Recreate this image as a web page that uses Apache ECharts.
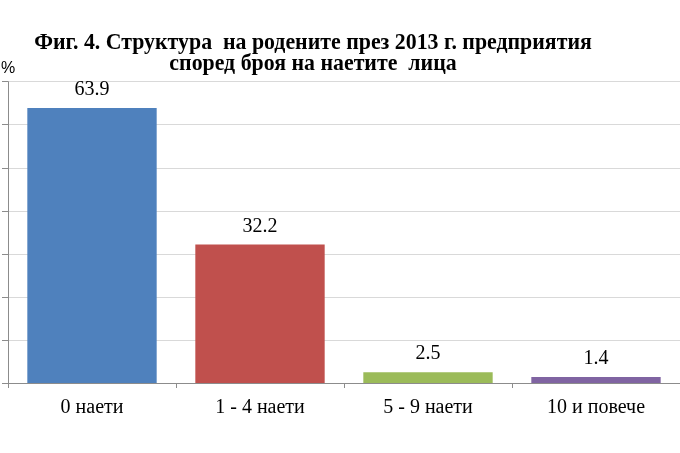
<!DOCTYPE html>
<html><head><meta charset="utf-8">
<script src="https://cdn.jsdelivr.net/npm/echarts@6/dist/echarts.min.js"></script>
<style>html,body{margin:0;padding:0;background:#fff}#c{width:680px;height:453px}</style>
</head><body><div id="c"></div>
<script>
const categories = ['0 наети', '1 - 4 наети', '5 - 9 наети', '10 и повече'];
const values = [63.9, 32.2, 2.5, 1.4];
const colors = ['#4f81bd', '#c0504d', '#9bbb59', '#8064a2'];
const titleLines = ['Фиг. 4. Структура  на родените през 2013 г. предприятия', 'според броя на наетите  лица'];

const chart = echarts.init(document.getElementById('c'));
const titleFont = 'bold 24px "Liberation Serif"';
chart.setOption({
  animation: false,
  backgroundColor: '#fff',
  graphic: [
    { type: 'text', x: 313, y: 43, scaleX: 0.91, style: { text: titleLines[0], font: titleFont, fill: '#000', align: 'center', verticalAlign: 'middle' } },
    { type: 'text', x: 313, y: 64, scaleX: 0.91, style: { text: titleLines[1], font: titleFont, fill: '#000', align: 'center', verticalAlign: 'middle' } },
    { type: 'text', left: 1, top: 61, style: { text: '%', font: '16px "Liberation Sans"', fill: '#000' } }
  ],
  grid: { left: 8, right: 0, top: 81.7, bottom: 70 },
  xAxis: {
    type: 'category', data: categories,
    axisLine: { lineStyle: { color: '#8c8c8c' } },
    axisTick: { show: true, length: 5, lineStyle: { color: '#8c8c8c' } },
    axisLabel: { fontFamily: 'Liberation Serif', fontSize: 20, color: '#000', margin: 15 }
  },
  yAxis: {
    type: 'value', min: 0, max: 70, interval: 10,
    axisLine: { show: true, lineStyle: { color: '#8c8c8c' } },
    axisTick: { show: true, length: 6, lineStyle: { color: '#8c8c8c' } },
    axisLabel: { show: false },
    splitLine: { lineStyle: { color: '#d9d9d9' } }
  },
  series: [{
    type: 'bar', barWidth: '77%',
    data: values.map((v, i) => ({ value: v, itemStyle: { color: colors[i] } })),
    label: { show: true, position: 'top', distance: 8, fontFamily: 'Liberation Serif', fontSize: 20, color: '#000', formatter: p => p.value.toFixed(1) }
  }]
});
</script></body></html>
